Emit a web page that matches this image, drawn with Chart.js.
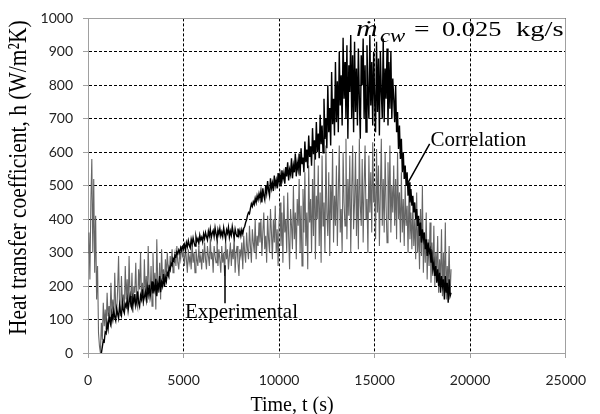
<!DOCTYPE html>
<html>
<head>
<meta charset="utf-8">
<script src="https://cdn.jsdelivr.net/npm/chart.js@4"></script>
<style>
  html, body { margin: 0; padding: 0; background: #fff; }
</style>
</head>
<body>
<canvas id="chart" width="600" height="414"></canvas>
<script>
// sampling step of both records, seconds
const STEP = 50;

// Correlation (black), one value per 50 s from t = 0 (20 per row = 1000 s); null before it starts
const correlation = [
  null, null, null, null, null, null, null, null, null, null, null, null, null, null, 0, 18, 38, 34, 62, 58,
  90, 72, 108, 95, 84, 118, 100, 126, 108, 97, 133, 118, 104, 142, 122, 112, 150, 128, 119, 146,
  138, 160, 128, 152, 170, 140, 132, 165, 150, 176, 142, 158, 184, 150, 139, 172, 160, 190, 155, 168,
  182, 160, 196, 175, 204, 168, 190, 214, 178, 200, 186, 222, 170, 206, 193, 230, 182, 212, 200, 236,
  198, 226, 214, 240, 232, 256, 248, 268, 262, 282, 276, 292, 288, 302, 296, 308, 300, 315, 306, 318,
  312, 324, 308, 330, 318, 336, 322, 314, 340, 326, 344, 330, 320, 348, 334, 342, 328, 352, 338, 346,
  332, 356, 342, 360, 348, 338, 364, 350, 370, 344, 358, 366, 348, 374, 356, 342, 368, 354, 372, 350,
  362, 348, 374, 356, 340, 368, 358, 376, 346, 364, 352, 378, 360, 344, 370, 356, 348, 372, 352, 366,
  350, 368, 356, 372, 378, 390, 398, 412, 420, 416, 432, 446, 438, 452, 444, 462, 450, 470, 458, 476,
  462, 484, 450, 492, 470, 458, 500, 478, 514, 486, 470, 522, 492, 508, 484, 530, 500, 516, 492, 538,
  510, 532, 498, 546, 520, 538, 506, 556, 528, 570, 516, 548, 534, 582, 522, 560, 540, 596, 528, 568,
  548, 596, 530, 612, 566, 584, 540, 632, 570, 608, 552, 650, 586, 618, 560, 672, 594, 636, 578, 690,
  600, 656, 582, 712, 624, 680, 598, 760, 640, 700, 612, 800, 660, 732, 620, 840, 684, 760, 650, 870,
  690, 812, 660, 900, 740, 830, 680, 942, 760, 870, 700, 920, 640, 860, 780, 950, 700, 890, 660, 930,
  720, 850, 680, 910, 760, 640, 890, 800, 940, 700, 860, 660, 920, 780, 700, 950, 740, 870, 680, 900,
  760, 660, 930, 720, 880, 650, 900, 780, 700, 940, 690, 850, 760, 910, 680, 870, 730, 900, 700, 820,
  760, 690, 800, 660, 720, 610, 680, 580, 640, 540, 600, 520, 560, 500, 540, 470, 510, 450, 490, 440,
  470, 420, 450, 400, 430, 380, 410, 350, 390, 330, 370, 340, 360, 310, 340, 290, 330, 300, 310, 270,
  290, 250, 270, 230, 260, 210, 250, 200, 240, 180, 230, 200, 220, 160, 230, 180, 210, 150, 220, 170,
  180
];

// Experimental (grey), one value per 50 s from t = 0 (20 per row = 1000 s)
const experimental = [
  300, 360, 220, 450, 580, 300, 520, 240, 410, 160, 260, 60, 20, 0, 90, 40, 150, 80, 130, 70,
  180, 110, 140, 95, 210, 120, 160, 100, 240, 135, 120, 190, 290, 140, 110, 230, 150, 175, 125, 260,
  160, 220, 130, 290, 170, 145, 240, 120, 200, 180, 270, 150, 135, 250, 190, 300, 160, 210, 140, 280,
  175, 230, 150, 320, 200, 170, 260, 140, 300, 190, 240, 130, 340, 210, 180, 270, 160, 310, 220, 250,
  200, 280, 230, 300, 250, 220, 290, 260, 310, 240, 280, 300, 260, 320, 270, 250, 300, 280, 320, 290,
  300, 260, 320, 280, 240, 310, 270, 290, 250, 330, 270, 300, 240, 310, 280, 260, 320, 270, 290, 250,
  310, 270, 330, 280, 250, 320, 290, 260, 340, 280, 300, 240, 320, 290, 270, 350, 260, 310, 280, 240,
  320, 270, 300, 230, 340, 280, 310, 250, 290, 330, 260, 310, 280, 350, 240, 300, 320, 270, 230, 310,
  290, 330, 250, 350, 300, 270, 360, 310, 280, 380, 320, 270, 370, 330, 300, 400, 280, 350, 320, 390,
  330, 400, 290, 360, 420, 310, 350, 270, 410, 340, 300, 430, 360, 280, 400, 330, 440, 300, 370, 260,
  390, 450, 320, 420, 270, 470, 360, 400, 300, 480, 350, 250, 430, 380, 310, 500, 340, 420, 280, 460,
  380, 520, 300, 440, 260, 490, 360, 540, 320, 420, 250, 560, 390, 460, 300, 520, 350, 600, 280, 470,
  400, 560, 320, 480, 270, 590, 380, 450, 300, 620, 420, 350, 540, 290, 500, 400, 610, 330, 470, 380,
  560, 320, 480, 620, 360, 430, 300, 600, 450, 380, 640, 340, 520, 410, 590, 300, 480, 620, 370, 450,
  600, 350, 520, 310, 640, 440, 380, 580, 330, 500, 620, 400, 460, 300, 590, 420, 540, 360, 630, 450,
  500, 340, 610, 420, 560, 320, 480, 640, 380, 520, 360, 600, 440, 330, 570, 400, 620, 360, 500, 420,
  560, 380, 520, 340, 600, 400, 480, 330, 540, 360, 460, 320, 500, 380, 440, 300, 490, 340, 420, 310,
  450, 320, 400, 280, 480, 300, 380, 250, 430, 290, 500, 240, 360, 270, 420, 220, 340, 260, 390, 210,
  330, 230, 380, 200, 300, 240, 350, 180, 280, 210, 370, 170, 300, 190, 390, 160, 260, 200, 320, 170,
  250
];

const xTicks = [0, 5000, 10000, 15000, 20000, 25000];
const yTicks = [0, 100, 200, 300, 400, 500, 600, 700, 800, 900, 1000];

const times = experimental.map((_, i) => i * STEP);

function toPoints(values) {
  return values
    .map((v, i) => ({ x: times[i], y: v }))
    .filter(p => p.y !== null);
}

const AXIS_GREY = '#a0a0a0';
const SERIF = '"Liberation Serif", "DejaVu Serif", serif';

function crisp(p) {
  return Math.round(p - 0.5) + 0.5;
}

// draw text stretched horizontally
function stretchText(ctx, text, x, y, sx) {
  ctx.save();
  ctx.translate(x, y);
  ctx.scale(sx, 1);
  ctx.fillText(text, 0, 0);
  ctx.restore();
}

// grey solid frame on the top and right sides
const frame = {
  id: 'frame',
  beforeDatasetsDraw(chart) {
    const { ctx, chartArea: a } = chart;
    ctx.save();
    ctx.strokeStyle = AXIS_GREY;
    ctx.lineWidth = 1;
    ctx.beginPath();
    ctx.moveTo(a.left, crisp(a.top));
    ctx.lineTo(crisp(a.right), crisp(a.top));
    ctx.lineTo(crisp(a.right), a.bottom);
    ctx.stroke();
    ctx.restore();
  }
};

// axis titles, series labels with pointer lines, flow rate note
const notes = {
  id: 'notes',
  afterDatasetsDraw(chart) {
    const { ctx, chartArea: a } = chart;
    const x = chart.scales.x, y = chart.scales.y;
    ctx.save();
    ctx.fillStyle = '#000';
    ctx.strokeStyle = '#000';

    // pointer lines
    ctx.lineWidth = 1.5;
    ctx.beginPath();
    ctx.moveTo(x.getPixelForValue(17880), y.getPixelForValue(625));
    ctx.lineTo(x.getPixelForValue(16750), y.getPixelForValue(509));
    ctx.moveTo(x.getPixelForValue(7170), y.getPixelForValue(262));
    ctx.lineTo(x.getPixelForValue(7170), y.getPixelForValue(149));
    ctx.stroke();

    ctx.font = '21px ' + SERIF;
    ctx.textAlign = 'left';
    ctx.textBaseline = 'middle';
    ctx.fillText('Correlation', x.getPixelForValue(17930), y.getPixelForValue(634));
    ctx.fillText('Experimental', x.getPixelForValue(5070), y.getPixelForValue(122));

    // flow rate
    ctx.textBaseline = 'alphabetic';
    ctx.font = 'italic 24px ' + SERIF;
    stretchText(ctx, 'ṁ', 356, 36, 1.25);
    ctx.font = 'italic 19px ' + SERIF;
    stretchText(ctx, 'cw', 380, 42, 1.2);
    ctx.font = '22px ' + SERIF;
    stretchText(ctx, '=', 414, 36, 1.25);
    stretchText(ctx, '0.025', 442, 36, 1.2);
    stretchText(ctx, 'kg/s', 516, 36, 1.3);

    // axis titles
    ctx.font = '20px ' + SERIF;
    ctx.textAlign = 'center';
    ctx.fillText('Time, t (s)', 292, 411);

    ctx.save();
    ctx.translate(19, (a.top + a.bottom) / 2 - 8);
    ctx.rotate(-Math.PI / 2);
    ctx.scale(1, 1.2);
    ctx.font = '21.5px ' + SERIF;
    ctx.textBaseline = 'middle';
    ctx.fillText('Heat transfer coefficient, h (W/m²K)', 0, 0);
    ctx.restore();

    ctx.restore();
  }
};

const tickFont = { family: 'Lato', size: 14 };

new Chart(document.getElementById('chart'), {
  type: 'scatter',
  data: {
    datasets: [
      {
        label: 'Correlation',
        data: toPoints(correlation),
        showLine: true,
        borderColor: '#000',
        backgroundColor: '#000',
        borderWidth: 1.4
      },
      {
        label: 'Experimental',
        data: toPoints(experimental),
        showLine: true,
        borderColor: '#666666',
        backgroundColor: '#666666',
        borderWidth: 1.1
      }
    ]
  },
  options: {
    responsive: false,
    animation: false,
    layout: { padding: { top: 17, right: 24, left: 0, bottom: 0 } },
    elements: { point: { radius: 0 }, line: { tension: 0 } },
    plugins: {
      legend: { display: false },
      tooltip: { enabled: false }
    },
    scales: {
      x: {
        type: 'linear',
        min: xTicks[0],
        max: xTicks[xTicks.length - 1],
        afterBuildTicks: s => { s.ticks = xTicks.map(v => ({ value: v })); },
        afterFit: s => { s.height = 61; },
        ticks: { padding: 14, color: '#222', font: tickFont, maxRotation: 0, callback: v => String(v) },
        grid: { color: '#000', lineWidth: 1, tickColor: AXIS_GREY, tickLength: 5, tickBorderDash: [] },
        border: { color: AXIS_GREY, dash: [3, 2] }
      },
      y: {
        min: yTicks[0],
        max: yTicks[yTicks.length - 1],
        afterBuildTicks: s => { s.ticks = yTicks.map(v => ({ value: v })); },
        afterFit: s => { s.width = 88; },
        ticks: { padding: 10, color: '#222', font: tickFont, autoSkip: false, callback: v => String(v) },
        grid: { color: '#000', lineWidth: 1, tickColor: AXIS_GREY, tickLength: 5, tickBorderDash: [] },
        border: { color: AXIS_GREY, dash: [3, 2] }
      }
    }
  },
  plugins: [frame, notes]
});
</script>
</body>
</html>
